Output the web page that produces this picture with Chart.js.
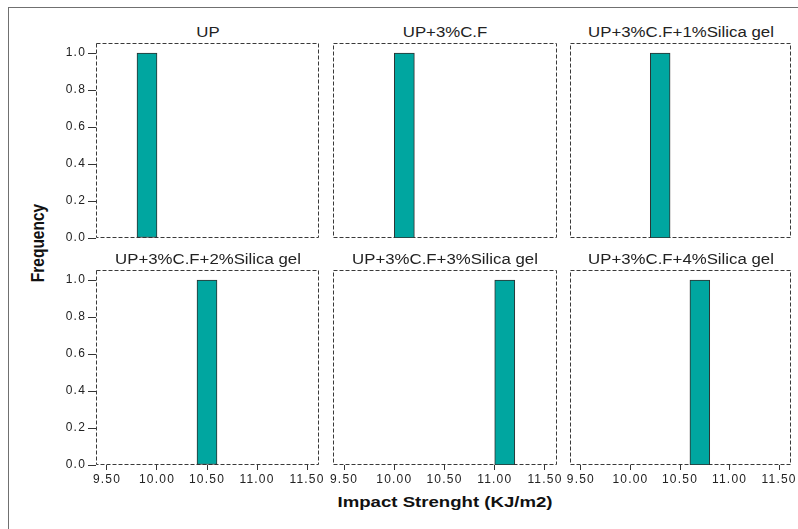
<!DOCTYPE html>
<html>
<head>
<meta charset="utf-8">
<script src="https://cdn.jsdelivr.net/npm/chart.js@4.4.1/dist/chart.umd.min.js"></script>
<style>
html, body { margin: 0; padding: 0; background: #fff; }
#wrap { position: relative; width: 798px; height: 529px; overflow: hidden; background: #fff; font-family: "Liberation Sans", Arial, sans-serif; }
#frame { position: absolute; left: 8px; top: 7px; width: 820px; height: 540px; border-top: 1px solid #707070; border-left: 1px solid #707070; }
.ptitle { position: absolute; font-size: 14px; color: #222; white-space: nowrap; line-height: 1; transform: translate(-50%, -50%) scaleX(1.2); }
canvas { position: absolute; }
#xtitle { position: absolute; left: 445px; top: 502px; font-weight: bold; font-size: 15.5px; color: #111; white-space: nowrap; line-height: 1; transform: translate(-50%, -50%) scaleX(1.2); }
#ytitle { position: absolute; left: 38px; top: 243px; font-weight: bold; font-size: 15.5px; color: #111; white-space: nowrap; line-height: 1; transform: translate(-50%, -50%) rotate(-90deg) scaleY(1.2); }
</style>
</head>
<body>
<div id="wrap">
  <div id="frame"></div>
  <div id="xtitle">Impact Strenght (KJ/m2)</div>
  <div id="ytitle">Frequency</div>
</div>
<script>
// ---- data ----
const panelTitles = [
  "UP",
  "UP+3%C.F",
  "UP+3%C.F+1%Silica gel",
  "UP+3%C.F+2%Silica gel",
  "UP+3%C.F+3%Silica gel",
  "UP+3%C.F+4%Silica gel"
];
const binCenters = [9.9, 10.1, 10.3, 10.5, 11.1, 10.7];
const binWidth = 0.2;
const frequencies = [1, 1, 1, 1, 1, 1];
const xTicks = [9.5, 10.0, 10.5, 11.0, 11.5];
const yTicks = [0.0, 0.2, 0.4, 0.6, 0.8, 1.0];

// ---- axis ranges & layout ----
const X_MIN = 9.39, X_MAX = 11.62, Y_MIN = 0, Y_MAX = 1.055;
const colLeft = [96, 333, 570];
const colWidth = [223, 224, 221];
const rowTop = [43, 270];
const plotH = 195;
const titleY = [32, 259];
const PAD_L = 40, PAD_R = 14, PAD_T = 4, PAD_B = 28;
const FONT = "'Liberation Sans', Arial, sans-serif";
const BAR_FILL = '#00A6A0', BAR_EDGE = '#2e2e2e', AXIS_COLOR = '#333', TEXT_COLOR = '#222';

const framePlugin = {
  id: 'panelFrame',
  beforeDraw(chart) { chart.ctx.letterSpacing = '1.2px'; },
  beforeDatasetsDraw(chart) {
    const { ctx, chartArea: a } = chart;
    ctx.save();
    ctx.strokeStyle = '#3a3a3a';
    ctx.lineWidth = 1;
    ctx.setLineDash([4, 2]);
    ctx.strokeRect(a.left + 0.5, a.top + 0.5, a.right - a.left - 1, a.bottom - a.top - 1);
    ctx.restore();
  }
};

const wrap = document.getElementById('wrap');

panelTitles.forEach((title, i) => {
  const r = Math.floor(i / 3), c = i % 3;
  const isLeft = (c === 0), isBottom = (r === 1);

  const t = document.createElement('div');
  t.className = 'ptitle';
  t.textContent = title;
  t.style.left = (colLeft[c] + colWidth[c] / 2) + 'px';
  t.style.top = titleY[r] + 'px';
  wrap.appendChild(t);

  const cv = document.createElement('canvas');
  const w = PAD_L + colWidth[c] + PAD_R, h = PAD_T + plotH + PAD_B;
  cv.width = w; cv.height = h;
  cv.style.width = w + 'px'; cv.style.height = h + 'px';
  cv.style.left = (colLeft[c] - PAD_L) + 'px';
  cv.style.top = (rowTop[r] - PAD_T) + 'px';
  wrap.appendChild(cv);

  new Chart(cv.getContext('2d'), {
    type: 'bar',
    data: {
      datasets: [{
        label: title,
        data: [{ x: binCenters[i], y: frequencies[i] }],
        backgroundColor: BAR_FILL,
        borderColor: BAR_EDGE,
        borderWidth: 1,
        borderSkipped: false,
        barPercentage: 1,
        categoryPercentage: 1,
        barThickness: (ctx) => {
          const s = ctx.chart.scales.x;
          if (!s || !s.width) return undefined;
          return Math.abs(s.getPixelForValue(X_MIN + binWidth) - s.getPixelForValue(X_MIN));
        }
      }]
    },
    options: {
      responsive: false,
      animation: false,
      events: [],
      layout: { padding: { left: 0, right: PAD_R, top: PAD_T, bottom: 0 } },
      plugins: { legend: { display: false }, tooltip: { enabled: false }, title: { display: false } },
      scales: {
        x: {
          type: 'linear',
          display: isBottom,
          offset: false,
          min: X_MIN, max: X_MAX,
          afterBuildTicks: (s) => { s.ticks = xTicks.map(v => ({ value: v })); },
          afterFit: (s) => { s.height = PAD_B; s.paddingLeft = 0; s.paddingRight = 0; },
          border: { display: false },
          grid: { offset: false, drawOnChartArea: false, drawTicks: true, tickLength: 5, color: AXIS_COLOR, lineWidth: 1 },
          ticks: {
            autoSkip: false, maxRotation: 0, padding: 2,
            color: TEXT_COLOR, font: { family: FONT, size: 12 },
            callback: (v) => Number(v).toFixed(2)
          }
        },
        y: {
          type: 'linear',
          display: isLeft,
          min: Y_MIN, max: Y_MAX,
          afterBuildTicks: (s) => { s.ticks = yTicks.map(v => ({ value: v })); },
          afterFit: (s) => { s.width = PAD_L; s.paddingTop = 0; s.paddingBottom = 0; },
          border: { display: false },
          grid: { drawOnChartArea: false, drawTicks: true, tickLength: 8, color: AXIS_COLOR, lineWidth: 1 },
          ticks: {
            padding: 2,
            color: TEXT_COLOR, font: { family: FONT, size: 12 },
            callback: (v) => Number(v).toFixed(1)
          }
        }
      }
    },
    plugins: [framePlugin]
  });
});
</script>
</body>
</html>
